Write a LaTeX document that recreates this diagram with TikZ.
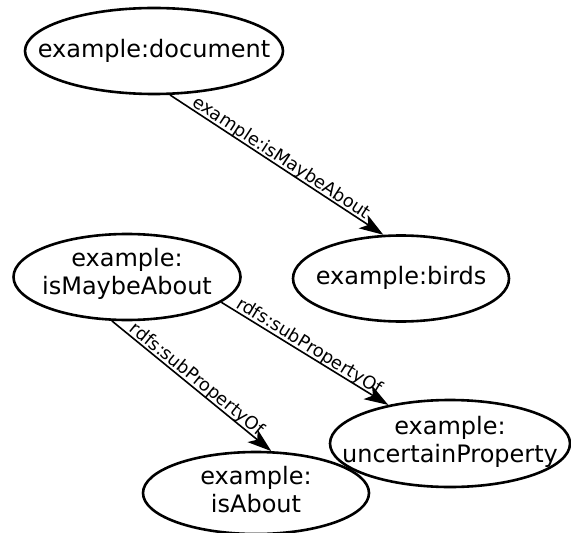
\documentclass[tikz,border=0pt]{standalone}
\usepackage{fontspec}
\setmainfont{DejaVu Sans}
\usetikzlibrary{shapes.geometric,arrows.meta}

\tikzset{
  res/.style={ellipse, draw, line width=2.6bp, inner sep=0pt},
  restext/.style={anchor=north, inner sep=0pt, align=center,
    font=\fontsize{24bp}{28bp}\selectfont},
  rel/.style={line width=1.6bp, -{Stealth[length=24bp, width=16bp, inset=6bp]}},
  rellabel/.style={midway, sloped, above, inner sep=0pt, outer sep=-0.5bp,
    font=\fontsize{17.8bp}{20bp}\selectfont}
}

\begin{document}
\begin{tikzpicture}[x=1bp, y=-1bp]
  \useasboundingbox (0,0) rectangle (571,533);

  % resource ellipses
  \node[res, minimum width=258bp, minimum height=86bp] (doc) at (154,51) {};
  \node[res, minimum width=216bp, minimum height=86bp] (birds) at (401,278.5) {};
  \node[res, minimum width=227bp, minimum height=86bp] (maybe) at (127,277) {};
  \node[res, minimum width=240bp, minimum height=87bp] (uncert) at (450,443.5) {};
  \node[res, minimum width=226bp, minimum height=82bp] (about) at (256,493) {};

  % labels inside the ellipses
  \node[restext] (doctext) at (154,39.5) {example:document};
  \node[restext] (birdstext) at (401,266.5) {example:birds};
  \node[restext] (maybetext) at (127,248.5) {example:\\isMaybeAbout};
  \node[restext] (uncerttext) at (450,416.5) {example:\\uncertainProperty};
  \node[restext] (abouttext) at (256,466.5) {example:\\isAbout};

  % property arcs
  \draw[rel] (doc.-70) -- node[rellabel] (l1) {example:isMaybeAbout} (birds.112);
  \draw[rel] (maybe.-15) -- node[rellabel] (l2) {rdfs:subPropertyOf} (uncert.148.5);
  \draw[rel] (maybe.-109) -- node[rellabel] (l3) {rdfs:subPropertyOf} (about.70.7);
\end{tikzpicture}
\end{document}
